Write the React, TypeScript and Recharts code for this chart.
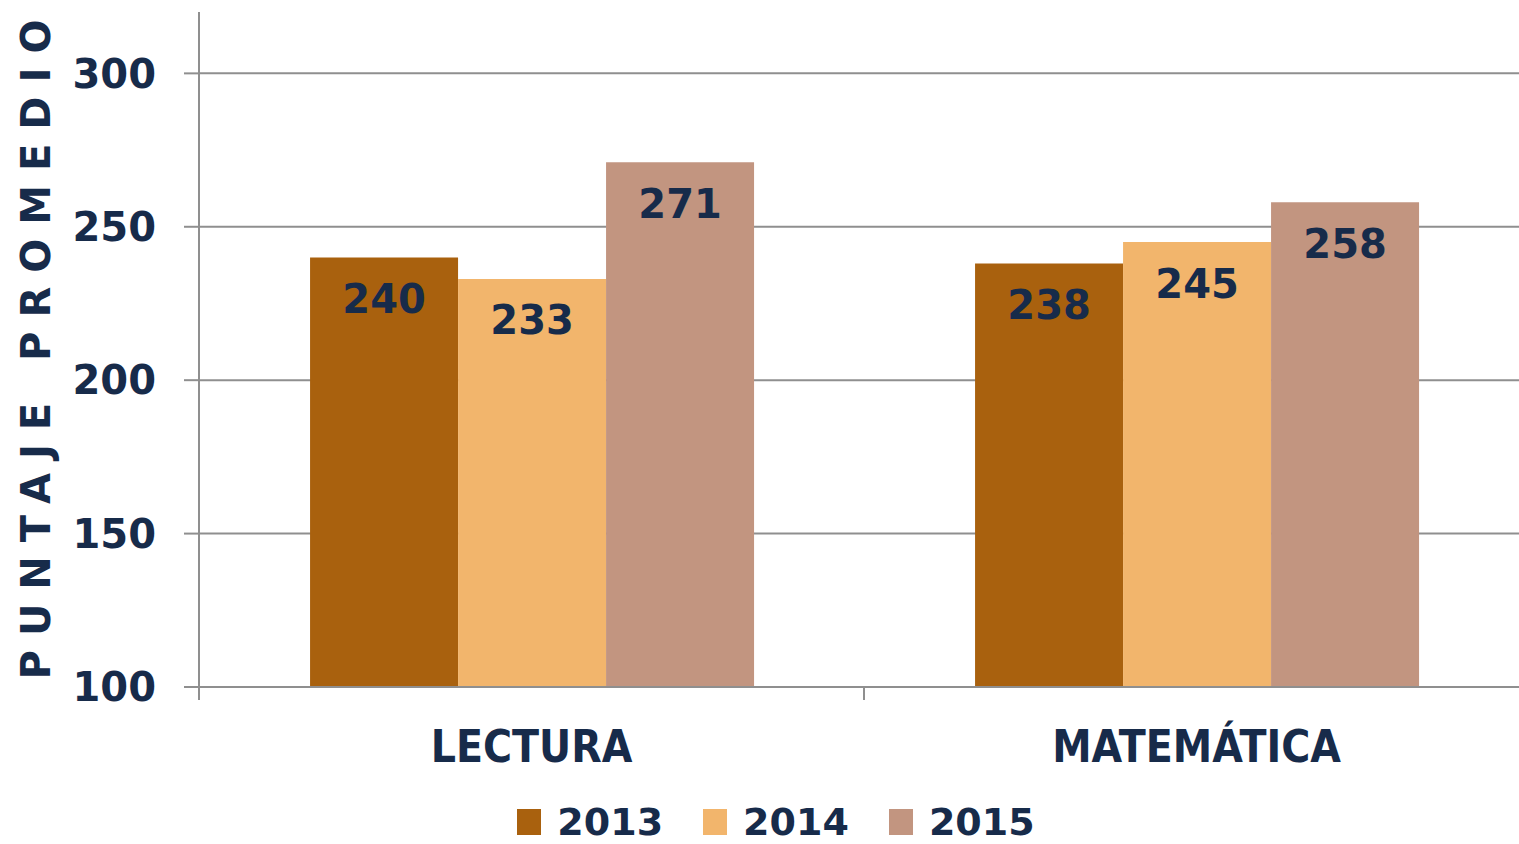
import React from 'react';
import { BarChart, Bar, XAxis, YAxis, CartesianGrid, Legend, LabelList } from 'recharts';

const categories = ['LECTURA', 'MATEMÁTICA'];
const years = ['2013', '2014', '2015'];
const values2013 = [240, 238];
const values2014 = [233, 245];
const values2015 = [271, 258];
const yTicks = [100, 150, 200, 250, 300];
const colors = ['#A9610E', '#F2B56C', '#C29580'];

const data = categories.map((c, i) => ({
  name: c,
  y2013: values2013[i],
  y2014: values2014[i],
  y2015: values2015[i],
}));

const TEXT = '#172B4A';
const GRID = '#8f8f8f';
const NUM_FONT = '"DejaVu Sans", sans-serif';

const CategoryTick = (props: any) => {
  const { x, y, payload, width, visibleTicksCount } = props;
  const half = width / (visibleTicksCount || 2) / 2;
  return (
    <g>
      <line x1={x - half} x2={x - half} y1={y - 8} y2={y + 5} stroke={GRID} strokeWidth={2} />
      <line x1={x + half} x2={x + half} y1={y - 8} y2={y + 5} stroke={GRID} strokeWidth={2} />
      <text
        x={x}
        y={y + 67}
        textAnchor="middle"
        fill={TEXT}
        style={{ fontFamily: '"DejaVu Sans Condensed", "DejaVu Sans", sans-serif', fontWeight: 'bold', fontSize: 44, fontStretch: 'condensed' }}
      >
        {payload.value}
      </text>
    </g>
  );
};

const renderLegend = () => (
  <div style={{ display: 'flex', justifyContent: 'center', paddingLeft: 33, fontFamily: NUM_FONT, fontWeight: 'bold', fontSize: 38, color: TEXT }}>
    {years.map((yr, i) => (
      <div key={yr} style={{ display: 'flex', alignItems: 'center', marginRight: i < years.length - 1 ? 40 : 0 }}>
        <div style={{ width: 24, height: 26, background: colors[i], marginRight: 16 }} />
        <span style={{ lineHeight: '36px' }}>{yr}</span>
      </div>
    ))}
  </div>
);

const YLabel = (props: any) => {
  const { viewBox } = props;
  const cy = viewBox.y + viewBox.height / 2 - 7;
  const cx = 36;
  return (
    <text
      x={cx}
      y={cy}
      transform={`rotate(-90, ${cx}, ${cy})`}
      textAnchor="middle"
      dominantBaseline="central"
      fill={TEXT}
      style={{ fontFamily: NUM_FONT, fontWeight: 'bold', fontSize: 40, letterSpacing: 14 }}
    >
      PUNTAJE PROMEDIO
    </text>
  );
};

export default function App() {
  return (
    <div style={{ position: 'absolute', left: 0, top: 0, width: 1519, height: 844, background: '#fff', overflow: 'hidden' }}>
      <BarChart
        width={1529}
        height={844}
        data={data}
        margin={{ top: 12, right: 0, left: 0, bottom: 91 }}
        barCategoryGap="16.7%"
        barGap={0}
      >
        <CartesianGrid vertical={false} stroke={GRID} strokeWidth={2} horizontalValues={yTicks} />
        <XAxis
          dataKey="name"
          axisLine={{ stroke: GRID, strokeWidth: 2 }}
          tickLine={false}
          tick={<CategoryTick />}
          interval={0}
        />
        <YAxis
          width={199}
          domain={[100, 320]}
          ticks={yTicks}
          allowDataOverflow
          axisLine={{ stroke: GRID, strokeWidth: 2 }}
          tickLine={{ stroke: GRID, strokeWidth: 2 }}
          tickSize={15}
          tickMargin={28}
          tick={{ fill: TEXT, fontFamily: NUM_FONT, fontWeight: 'bold', fontSize: 40 }}
          label={<YLabel />}
        />
        <Legend verticalAlign="bottom" content={renderLegend} wrapperStyle={{ left: 0, width: 1519, top: 804 }} />
        {['y2013', 'y2014', 'y2015'].map((k, i) => (
          <Bar key={k} dataKey={k} name={years[i]} fill={colors[i]} isAnimationActive={false}>
            <LabelList
              dataKey={k}
              position="insideTop"
              offset={27}
              fill={TEXT}
              style={{ fontFamily: NUM_FONT, fontWeight: 'bold', fontSize: 40 }}
            />
          </Bar>
        ))}
      </BarChart>
    </div>
  );
}
